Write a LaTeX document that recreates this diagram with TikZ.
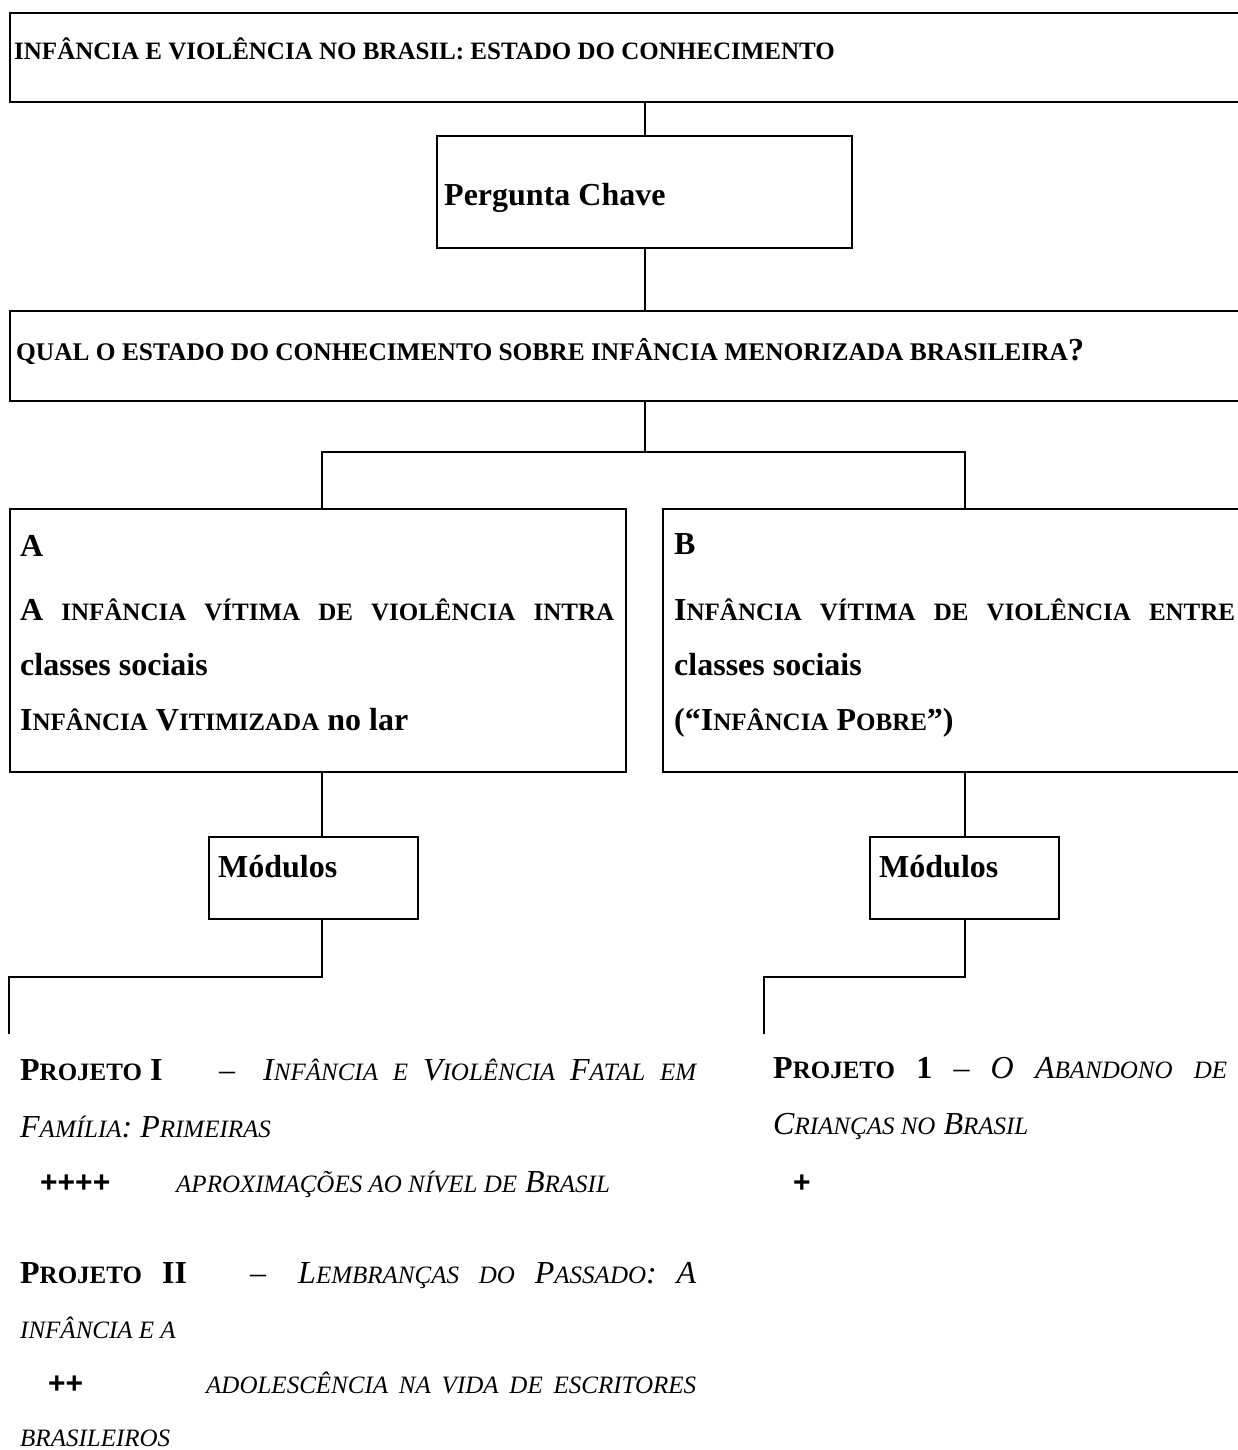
\documentclass[tikz,border=0pt]{standalone}
\usepackage{fontspec}
\setmainfont{Liberation Serif}
\newfontfamily\plusfont{Liberation Sans}
\newcommand\fsc[1]{{\fontsize{25}{30}\selectfont #1}}
\newcommand\qsc[1]{{\fontsize{25.4}{30}\selectfont #1}}
\newcommand\jline[2]{\hbox to #1pt{#2}}
\tikzset{
  x=1pt, y=-1pt,
  box/.style={draw, line width=2.2pt, inner sep=0pt, anchor=north west},
  conn/.style={line width=2.2pt},
  bt/.style={anchor=base west, inner sep=0pt, font=\fontsize{32}{38}\selectfont\bfseries},
  it/.style={anchor=base west, inner sep=0pt, font=\fontsize{32}{38}\selectfont\itshape},
  rt/.style={anchor=base west, inner sep=0pt, font=\fontsize{32}{38}\selectfont},
  pl/.style={anchor=base west, inner sep=0pt, font=\plusfont\fontsize{30}{36}\selectfont\bfseries},
}
\begin{document}
\begin{tikzpicture}
\useasboundingbox (0,0) rectangle (1238,1450);
% boxes
\node[box, minimum width=1300pt, minimum height=89pt] (top) at (9,12) {};
\node[box, minimum width=415pt, minimum height=112pt] (perg) at (436,135) {};
\node[box, minimum width=1300pt, minimum height=90pt] (qual) at (9,310) {};
\node[box, minimum width=616pt, minimum height=263pt] (A) at (9,508) {};
\node[box, minimum width=700pt, minimum height=263pt] (B) at (662,508) {};
\node[box, minimum width=209pt, minimum height=82pt] (modA) at (208,836) {};
\node[box, minimum width=189pt, minimum height=82pt] (modB) at (869,836) {};
% connectors
\coordinate (fa) at (322,452);
\coordinate (fb) at (965,452);
\coordinate (ca) at (9,977);
\coordinate (ea) at (9,1034);
\coordinate (cb) at (764,977);
\coordinate (eb) at (764,1034);
\draw[conn] (perg.north) -- (perg.north |- top.south);
\draw[conn] (perg.south) -- (perg.south |- qual.north);
\draw[conn] (perg.south |- qual.south) -- (perg.south |- fa);
\draw[conn] (fa |- A.north) -- (fa) -- (fb) -- (fb |- B.north);
\draw[conn] (fa |- A.south) -- (fa |- modA.north);
\draw[conn] (fb |- B.south) -- (fb |- modB.north);
\draw[conn] (fa |- modA.south) |- (ca) -- (ea);
\draw[conn] (fb |- modB.south) |- (cb) -- (eb);
% texts in boxes
\node[bt] (t1) at (14,60) {\fsc{INFÂNCIA E VIOLÊNCIA NO BRASIL: ESTADO DO CONHECIMENTO}};
\node[bt] (t2) at (444,205) {Pergunta Chave};
\node[bt] (t3) at (16,360) {\qsc{QUAL O ESTADO DO CONHECIMENTO SOBRE INFÂNCIA MENORIZADA BRASILEIRA}?};
\node[bt] (a1) at (20,556) {A};
\node[bt] (a2) at (20,620) {\jline{594}{A\hfill\fsc{INFÂNCIA}\hfill\fsc{VÍTIMA}\hfill\fsc{DE}\hfill\fsc{VIOLÊNCIA}\hfill\fsc{INTRA}}};
\node[bt] (a3) at (20,675) {classes sociais};
\node[bt] (a4) at (20,730) {I\fsc{NFÂNCIA} V\fsc{ITIMIZADA} no lar};
\node[bt] (b1) at (674,554) {B};
\node[bt] (b2) at (674,620) {\jline{561}{I\fsc{NFÂNCIA}\hfill\fsc{VÍTIMA}\hfill\fsc{DE}\hfill\fsc{VIOLÊNCIA}\hfill\fsc{ENTRE}}};
\node[bt] (b3) at (674,675) {classes sociais};
\node[bt] (b4) at (674,730) {(“I\fsc{NFÂNCIA} P\fsc{OBRE}”)};
\node[bt] (m1) at (218,877) {Módulos};
\node[bt] (m2) at (879,877) {Módulos};
% left column projects
\node[bt] (p1) at (20,1080) {P\fsc{ROJETO} I};
\node[rt] (p1d) at (219,1080) {–};
\node[it] (p1t) at (263,1080) {\jline{433}{I\fsc{NFÂNCIA}\hfill\fsc{E}\hfill V\fsc{IOLÊNCIA}\hfill F\fsc{ATAL}\hfill\fsc{EM}}};
\node[it] (p1b) at (20,1137) {F\fsc{AMÍLIA}: P\fsc{RIMEIRAS}};
\node[pl] (p1p) at (40,1192) {++++};
\node[it] (p1c) at (176,1192) {\fsc{APROXIMAÇÕES AO NÍVEL DE} B\fsc{RASIL}};
\node[bt] (p2) at (20,1283) {P\fsc{ROJETO}};
\node[bt] (p2n) at (162,1283) {II};
\node[rt] (p2d) at (250,1283) {–};
\node[it] (p2t) at (298,1283) {\jline{398}{L\fsc{EMBRANÇAS}\hfill\fsc{DO}\hfill P\fsc{ASSADO}:\hfill A}};
\node[it] (p2b) at (20,1338) {\fsc{INFÂNCIA E A}};
\node[pl] (p2p) at (48,1393) {++};
\node[it] (p2c) at (206,1393) {\jline{490}{\fsc{ADOLESCÊNCIA}\hfill\fsc{NA}\hfill\fsc{VIDA}\hfill\fsc{DE}\hfill\fsc{ESCRITORES}}};
\node[it] (p2e) at (20,1446) {\fsc{BRASILEIROS}};
% right column project
\node[rt] (q1) at (773,1078) {\jline{454}{{\bfseries P\fsc{ROJETO}}\hfill{\bfseries 1}\hfill –\hfill{\itshape O}\hfill{\itshape A\fsc{BANDONO}}\hfill{\itshape\fsc{DE}}}};
\node[it] (q1b) at (773,1134) {C\fsc{RIANÇAS NO} B\fsc{RASIL}};
\node[pl] (q1p) at (793,1192) {+};
\end{tikzpicture}
\end{document}
